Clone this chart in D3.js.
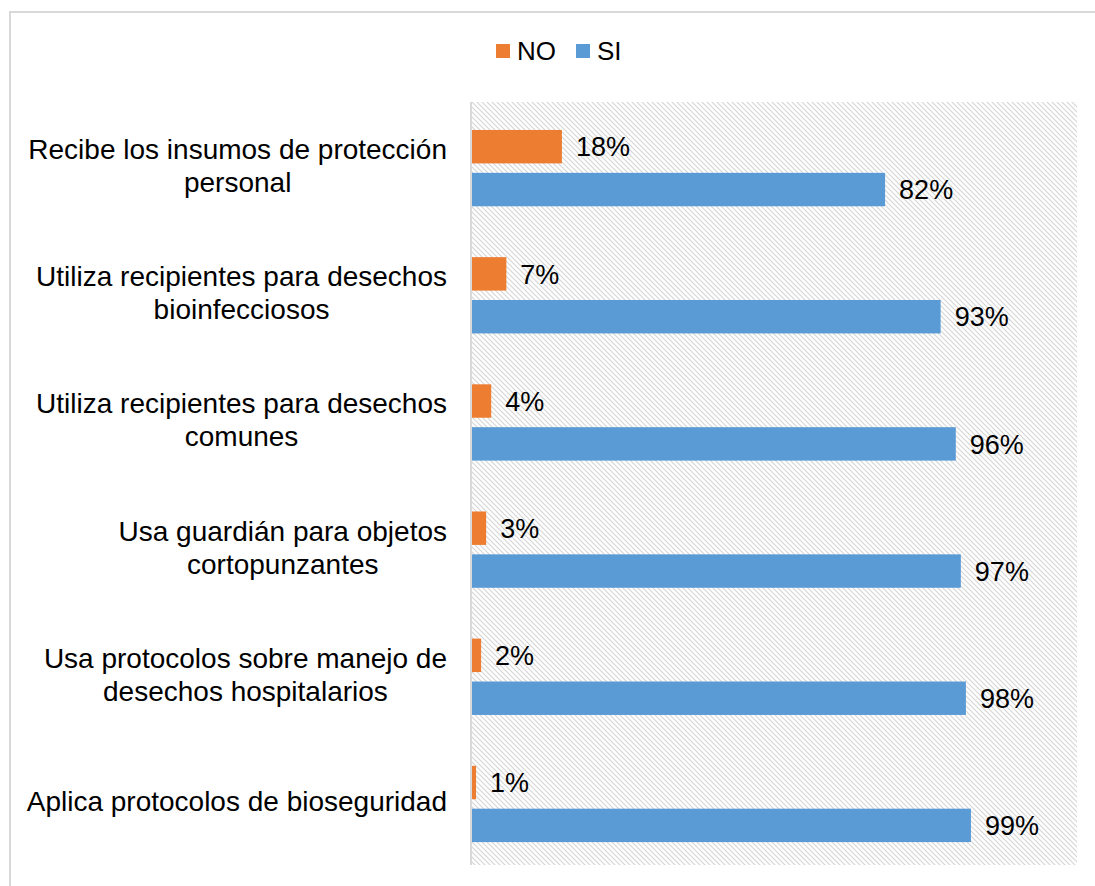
<!DOCTYPE html>
<html>
<head>
<meta charset="utf-8">
<script src="https://cdn.jsdelivr.net/npm/d3@7"></script>
<style>
  body { margin: 0; background: #fff; }
  text { font-family: "Liberation Sans", Arial, sans-serif; fill: #000; }
</style>
</head>
<body>
<div id="chart"></div>
<script>
var categories = [
  ["Recibe los insumos de protección", "personal"],
  ["Utiliza recipientes para desechos", "bioinfecciosos"],
  ["Utiliza recipientes para desechos", "comunes"],
  ["Usa guardián para objetos", "cortopunzantes"],
  ["Usa protocolos sobre manejo de", "desechos hospitalarios"],
  ["Aplica protocolos de bioseguridad"]
];
var seriesNames = ["NO", "SI"];
var noValues = [0.18, 0.07, 0.04, 0.03, 0.02, 0.01];
var siValues = [0.82, 0.93, 0.96, 0.97, 0.98, 0.99];
var colors = { NO: "#ED7D31", SI: "#5B9BD5" };

var svgWidth = 1095, svgHeight = 886;
var plot = { left: 471, right: 1077, top: 102, bottom: 865 };

var svg = d3.select("#chart")
  .append("svg")
  .attr("width", svgWidth)
  .attr("height", svgHeight);

// patron rayado del area de trazado
var defs = svg.append("defs");
var pat = defs.append("pattern")
  .attr("id", "hatch")
  .attr("patternUnits", "userSpaceOnUse")
  .attr("width", 5).attr("height", 5);
pat.append("rect").attr("width", 5).attr("height", 5).attr("fill", "#fff");
pat.append("path")
  .attr("d", "M-1,-1 L6,6 M-1,4 L1,6 M4,-1 L6,1")
  .attr("stroke", "#d6d6d6")
  .attr("stroke-width", 1.2);

// borde exterior
svg.append("rect")
  .attr("x", 10).attr("y", 12)
  .attr("width", 1200).attr("height", 1000)
  .attr("fill", "none")
  .attr("stroke", "#d9d9d9")
  .attr("stroke-width", 2);

svg.append("rect")
  .attr("x", plot.left).attr("y", plot.top)
  .attr("width", plot.right - plot.left)
  .attr("height", plot.bottom - plot.top)
  .attr("fill", "url(#hatch)");

var xScale = d3.scaleLinear().domain([0, 1.2]).range([plot.left, plot.right]);
var yScale = d3.scaleBand().domain(d3.range(categories.length)).range([plot.top, plot.bottom]);
var bw = yScale.bandwidth();
var yInner = d3.scaleBand().domain(seriesNames)
  .range([bw * 0.22, bw * 0.82]).paddingInner(0.22);

var rows = categories.map(function (c, i) {
  return { i: i, label: c, NO: noValues[i], SI: siValues[i] };
});

var groups = svg.selectAll(".cat")
  .data(rows)
  .enter()
  .append("g")
  .attr("class", "cat")
  .attr("transform", function (d) { return "translate(0," + yScale(d.i) + ")"; });

seriesNames.forEach(function (s) {
  groups.append("rect")
    .attr("x", xScale(0))
    .attr("y", yInner(s))
    .attr("width", function (d) { return xScale(d[s]) - xScale(0); })
    .attr("height", yInner.bandwidth())
    .attr("fill", colors[s]);

  groups.append("text")
    .attr("x", function (d) { return xScale(d[s]) + 14; })
    .attr("y", yInner(s) + yInner.bandwidth() / 2)
    .attr("dy", "0.36em")
    .attr("font-size", 27)
    .text(function (d) { return Math.round(d[s] * 100) + "%"; });
});

// eje vertical
svg.append("line")
  .attr("x1", plot.left).attr("x2", plot.left)
  .attr("y1", plot.top).attr("y2", plot.bottom)
  .attr("stroke", "#d9d9d9")
  .attr("stroke-width", 2);

// etiquetas de categoria: bloque alineado a la derecha, lineas centradas
var labelRight = 447, lineH = 33;
groups.each(function (d) {
  var g = d3.select(this);
  var t = g.append("text").attr("font-size", 28).attr("text-anchor", "middle");
  var n = d.label.length;
  d.label.forEach(function (line, k) {
    t.append("tspan")
      .attr("x", 0)
      .attr("y", bw / 2 + (k - (n - 1) / 2) * lineH)
      .attr("dy", "0.36em")
      .text(line);
  });
  // medir el ancho del bloque y centrar
  var w = t.node().getBBox().width;
  t.selectAll("tspan").attr("x", labelRight - w / 2);
});

// leyenda
var legend = svg.append("g").attr("transform", "translate(496,44)");
var lx = [0, 80];
seriesNames.forEach(function (s, i) {
  legend.append("rect")
    .attr("x", lx[i]).attr("y", 0)
    .attr("width", 14).attr("height", 14)
    .attr("fill", colors[s]);
  legend.append("text")
    .attr("x", lx[i] + 21).attr("y", 7)
    .attr("dy", "0.36em")
    .attr("font-size", 26)
    .text(s);
});
</script>
</body>
</html>
